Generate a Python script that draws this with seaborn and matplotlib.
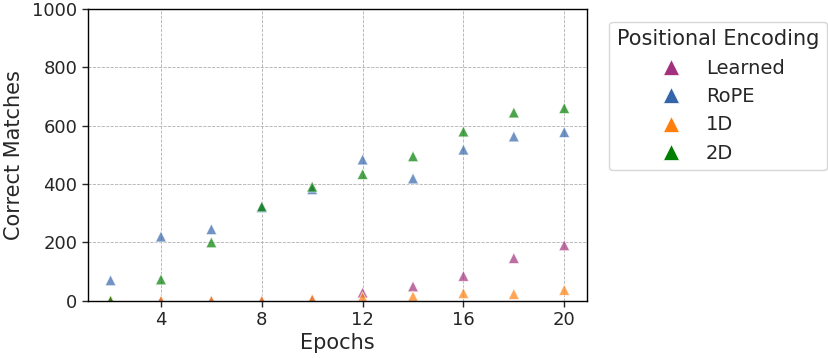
import numpy as np
import pandas as pd
import matplotlib
matplotlib.use("Agg")
import matplotlib.pyplot as plt
import seaborn as sns
from matplotlib.lines import Line2D

epochs = [2, 4, 6, 8, 10, 12, 14, 16, 18, 20]
learned = [0, 0, 0, 0, 3, 28, 49, 85, 146, 190]
rope = [70, 220, 245, 320, 382, 484, 419, 518, 563, 578]
one_d = [0, 0, 0, 0, 5, 12, 15, 26, 23, 37]
two_d = [0, 73, 200, 323, 391, 434, 495, 580, 645, 660]

series_names = ["Learned", "RoPE", "1D", "2D"]
colors = ["#a2307c", "#3465aa", "#ff7f0e", "#007f00"]

df = pd.DataFrame({
    "Epochs": epochs * 4,
    "Correct Matches": learned + rope + one_d + two_d,
    "Positional Encoding": sum([[n] * len(epochs) for n in series_names], []),
})

sns.set_style("white")
plt.rcParams['font.family'] = ['DejaVu Sans']

fig, ax = plt.subplots(figsize=(8.29, 3.58), dpi=100)
sns.scatterplot(data=df, x="Epochs", y="Correct Matches", hue="Positional Encoding",
                hue_order=series_names, palette=colors, marker="^", s=60,
                alpha=0.7, edgecolor="white", linewidth=0.6, ax=ax, legend=False)

ax.set_ylim(0, 1000)
ax.set_xticks([4, 8, 12, 16, 20])
ax.set_yticks([0, 200, 400, 600, 800, 1000])
ax.tick_params(labelsize=13, length=4, width=1, bottom=True, left=True)
ax.set_xlabel("Epochs", fontsize=15, labelpad=3)
ax.set_ylabel("Correct Matches", fontsize=15, labelpad=6)
ax.grid(True, linestyle="--", linewidth=0.6, color="#b0b0b0")
for sp in ax.spines.values():
    sp.set_color("black")
    sp.set_linewidth(1)

handles = [Line2D([], [], linestyle="none", marker="^", markersize=12,
                  markerfacecolor=c, markeredgecolor="white", markeredgewidth=0.5)
           for c in colors]
leg = ax.legend(handles, series_names, title="Positional Encoding", fontsize=14,
                title_fontsize=15, loc="upper left", bbox_to_anchor=(1.025, 0.99),
                handletextpad=0.8, frameon=True, labelspacing=0.48)

fig.subplots_adjust(left=0.106, right=0.708, top=0.975, bottom=0.16)
fig.savefig("out.png", dpi=100)
